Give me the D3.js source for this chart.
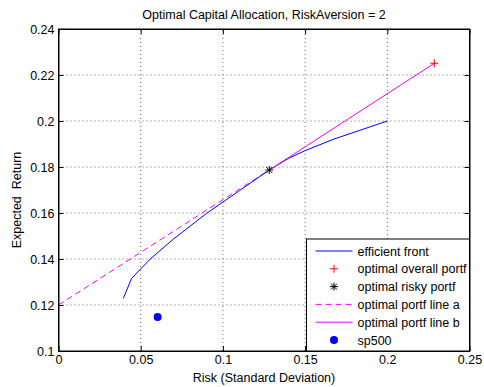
<!DOCTYPE html>
<html>
<head>
<meta charset="utf-8">
<script src="https://cdn.jsdelivr.net/npm/d3@7"></script>
<style>
    body { margin: 0; background: #fff; }
    svg text { font-family: "Liberation Sans", Arial, sans-serif; font-size: 12.5px; fill: #000; }
</style>
</head>
<body>
<div class="Chart"></div>
<script>

// efficient frontier
const front_risk = [0.0394, 0.0445, 0.0557, 0.0698, 0.09, 0.11, 0.1282, 0.14, 0.15, 0.167, 0.2];
const front_return = [0.1229, 0.1316, 0.1399, 0.1486, 0.1598, 0.1697, 0.1787, 0.1838, 0.1871, 0.192, 0.2];

// capital allocation line, split at the optimal risky portfolio
const line_a_risk = [0, 0.1282];
const line_a_return = [0.12, 0.1787];
const line_b_risk = [0.1282, 0.2286];
const line_b_return = [0.1787, 0.2251];

const risky_portf = [0.1282, 0.1787];
const overall_portf = [0.2286, 0.2251];
const sp500 = [0.0603, 0.1148];

const x_ticks = [0, 0.05, 0.1, 0.15, 0.2, 0.25];
const y_ticks = [0.1, 0.12, 0.14, 0.16, 0.18, 0.2, 0.22, 0.24];

const legend_labels = [
    "efficient front",
    "optimal overall portf",
    "optimal risky portf",
    "optimal portf line a",
    "optimal portf line b",
    "sp500"
];

const width = 484;
const height = 387;
const margin = {top: 29, right: 14.5, bottom: 36, left: 58.5};

const svg = d3.select(".Chart")
    .append("svg")
    .attr("width", width)
    .attr("height", height);

const x = d3.scaleLinear()
    .domain([0, 0.25])
    .range([margin.left, width - margin.right]);

const y = d3.scaleLinear()
    .domain([0.1, 0.24])
    .range([height - margin.bottom, margin.top]);

const tick_format = d => String(+d.toFixed(3));

// dotted grid
svg.append("g")
    .selectAll("line")
    .data(x_ticks.slice(1, -1))
    .join("line")
    .attr("x1", d => x(d)).attr("x2", d => x(d))
    .attr("y1", y(0.1)).attr("y2", y(0.24))
    .attr("stroke", "#666")
    .attr("stroke-dasharray", "1,3");
svg.append("g")
    .selectAll("line")
    .data(y_ticks.slice(1, -1))
    .join("line")
    .attr("x1", x(0)).attr("x2", x(0.25))
    .attr("y1", d => y(d)).attr("y2", d => y(d))
    .attr("stroke", "#666")
    .attr("stroke-dasharray", "1,3");

// axes with inward ticks on all four sides
const style_axis = function (g) {
    g.select(".domain").attr("stroke", "#000");
    g.selectAll(".tick line").attr("stroke", "#000");
    g.selectAll("text").style("font-size", "12.5px");
};

svg.append("g")
    .attr("transform", `translate(0,${y(0.1)})`)
    .call(d3.axisBottom(x).tickValues(x_ticks).tickFormat(tick_format).tickSizeInner(-5).tickSizeOuter(0).tickPadding(4))
    .call(style_axis);
svg.append("g")
    .attr("transform", `translate(0,${y(0.24)})`)
    .call(d3.axisTop(x).tickValues(x_ticks).tickFormat("").tickSizeInner(-5).tickSizeOuter(0))
    .call(style_axis);
svg.append("g")
    .attr("transform", `translate(${x(0)},0)`)
    .call(d3.axisLeft(y).tickValues(y_ticks).tickFormat(tick_format).tickSizeInner(-5).tickSizeOuter(0).tickPadding(4))
    .call(style_axis);
svg.append("g")
    .attr("transform", `translate(${x(0.25)},0)`)
    .call(d3.axisRight(y).tickValues(y_ticks).tickFormat("").tickSizeInner(-5).tickSizeOuter(0))
    .call(style_axis);

const line = d3.line().x(d => x(d[0])).y(d => y(d[1]));

const plot = svg.append("g");

plot.append("path")
    .attr("d", line(d3.zip(line_a_risk, line_a_return)))
    .attr("fill", "none")
    .attr("stroke", "#ff00ff")
    .attr("stroke-dasharray", "6,4");

plot.append("path")
    .attr("d", line(d3.zip(front_risk, front_return)))
    .attr("fill", "none")
    .attr("stroke", "#0000ff");

plot.append("path")
    .attr("d", line(d3.zip(line_b_risk, line_b_return)))
    .attr("fill", "none")
    .attr("stroke", "#ff00ff");

const draw_plus = function (g, cx, cy, r, color) {
    g.append("path")
        .attr("d", `M${cx - r},${cy}H${cx + r}M${cx},${cy - r}V${cy + r}`)
        .attr("stroke", color)
        .attr("fill", "none");
};

const draw_star = function (g, cx, cy, r, color) {
    const k = r * 0.75;
    g.append("path")
        .attr("d", `M${cx - r},${cy}H${cx + r}M${cx},${cy - r}V${cy + r}` +
            `M${cx - k},${cy - k}L${cx + k},${cy + k}M${cx - k},${cy + k}L${cx + k},${cy - k}`)
        .attr("stroke", color)
        .attr("fill", "none");
};

draw_plus(plot, x(overall_portf[0]), y(overall_portf[1]), 4, "#ff0000");
draw_star(plot, x(risky_portf[0]), y(risky_portf[1]), 4, "#000");

plot.append("circle")
    .attr("cx", x(sp500[0]))
    .attr("cy", y(sp500[1]))
    .attr("r", 4)
    .attr("fill", "#0000ff");

// frame on top
svg.append("rect")
    .attr("x", x(0)).attr("y", y(0.24))
    .attr("width", x(0.25) - x(0))
    .attr("height", y(0.1) - y(0.24))
    .attr("fill", "none")
    .attr("stroke", "#000");

// titles
svg.append("text")
    .attr("x", (x(0) + x(0.25)) / 2)
    .attr("y", 19)
    .attr("text-anchor", "middle")
    .text("Optimal Capital Allocation, RiskAversion = 2");

svg.append("text")
    .attr("x", (x(0) + x(0.25)) / 2)
    .attr("y", 382)
    .attr("text-anchor", "middle")
    .text("Risk (Standard Deviation)");

svg.append("text")
    .attr("transform", `translate(21,${(y(0.1) + y(0.24)) / 2 + 10}) rotate(-90)`)
    .attr("text-anchor", "middle")
    .style("white-space", "pre")
    .text("Expected  Return");

// legend
const legend = svg.append("g").attr("transform", "translate(306.5,239)");
legend.append("rect")
    .attr("width", x(0.25) - 306.5)
    .attr("height", y(0.1) - 239)
    .attr("fill", "#fff")
    .attr("stroke", "#000");

const row_y = i => 12 + i * 17.8;
const sample_x0 = 9;
const sample_x1 = 46;
const sample_mid = (sample_x0 + sample_x1) / 2;

legend.selectAll("text")
    .data(legend_labels)
    .join("text")
    .attr("x", 51)
    .attr("y", (d, i) => row_y(i) + 4.5)
    .text(d => d);

const sample = (i, color, dash) => legend.append("line")
    .attr("x1", sample_x0).attr("x2", sample_x1)
    .attr("y1", row_y(i)).attr("y2", row_y(i))
    .attr("stroke", color)
    .attr("stroke-dasharray", dash);

sample(0, "#0000ff", null);
draw_plus(legend, sample_mid, row_y(1), 4, "#ff0000");
draw_star(legend, sample_mid, row_y(2), 4, "#000");
sample(3, "#ff00ff", "6,4");
sample(4, "#ff00ff", null);
legend.append("circle")
    .attr("cx", sample_mid)
    .attr("cy", row_y(5))
    .attr("r", 4)
    .attr("fill", "#0000ff");

</script>
</body>
</html>
